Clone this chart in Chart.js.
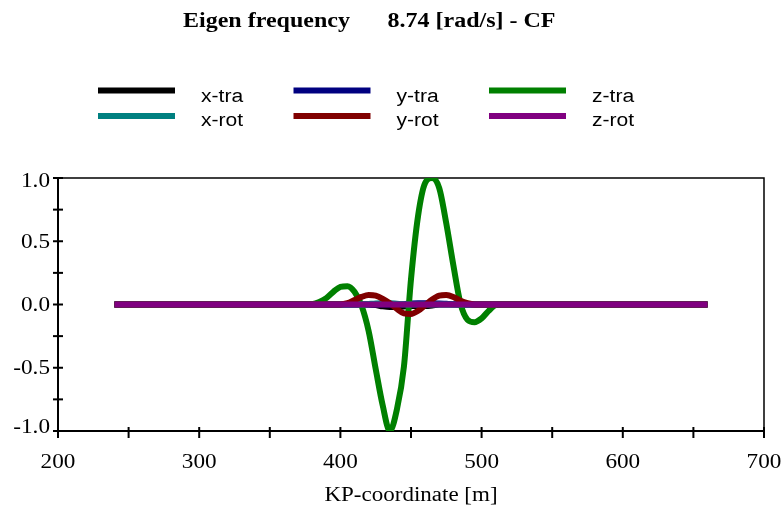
<!DOCTYPE html>
<html>
<head>
<meta charset="utf-8">
<title>Eigen frequency 8.74 [rad/s] - CF</title>
<script src="https://cdn.jsdelivr.net/npm/chart.js@4.4.1/dist/chart.umd.min.js"></script>
<style>
    html, body { margin: 0; padding: 0; background: #ffffff; }
    #mode-chart { display: block; }
</style>
</head>
<body>
<canvas id="mode-chart" width="784" height="514"></canvas>
<script>
// ============================================
// Mode shape plot - six displacement components along the KP line
// ============================================

const TITLE_LEFT = 'Eigen frequency';
const TITLE_RIGHT = '8.74 [rad/s] - CF';
const X_TITLE = 'KP-coordinate [m]';

const seriesLabels = ['x-tra', 'y-tra', 'z-tra', 'x-rot', 'y-rot', 'z-rot'];
const seriesColors = ['#000000', '#000080', '#008000', '#008080', '#800000', '#800080'];

// KP stations [m]
const kp = [240, 300, 360,
    370, 375, 380, 385, 390, 395, 400, 405, 410, 415, 420, 425, 430, 435, 440, 445,
    450, 455, 460, 465, 470, 475, 480, 485, 490, 495, 500, 505, 510, 515, 520,
    540, 600, 660];

const xTra = [0, 0, 0,
    0, 0, 0, 0, 0, 0, 0, 0, 0, 0, 0, -0.005, -0.015, -0.02, -0.02, -0.015,
    -0.012, -0.012, -0.012, -0.008, 0, 0, 0, 0, 0, 0, 0, 0, 0, 0, 0,
    0, 0, 0];

const yTra = [0, 0, 0,
    0, 0, 0, 0, 0, 0, 0, 0, 0, 0, 0, 0, 0, 0, 0, 0.003,
    0.008, 0.01, 0.01, 0.01, 0.008, 0.005, 0.002, 0, 0, 0, 0, 0, 0, 0, 0,
    0, 0, 0];

const zTra = [0, 0, 0,
    0, 0, 0.003, 0.02, 0.05, 0.10, 0.14, 0.145, 0.10, -0.01, -0.21, -0.51, -0.80, -1.0, -0.83, -0.49,
    0.2, 0.7, 0.96, 1.0, 0.92, 0.64, 0.31, 0.01, -0.12, -0.14, -0.11, -0.05, -0.005, 0, 0,
    0, 0, 0];

const xRot = [0, 0, 0,
    0, 0, 0, 0, 0, 0, 0, 0, 0, 0, 0.004, 0.008, 0.01, 0.01, 0.006, 0.002,
    0, 0, 0, 0, 0, 0, 0, 0, 0, 0, 0, 0, 0, 0, 0,
    0, 0, 0];

const yRot = [0, 0, 0,
    0, 0, 0, 0, 0, 0, 0, 0.01, 0.035, 0.06, 0.075, 0.07, 0.045, 0.01, -0.035, -0.07,
    -0.075, -0.05, -0.005, 0.04, 0.07, 0.075, 0.06, 0.03, 0.01, 0, 0, 0, 0, 0, 0,
    0, 0, 0];

const zRot = [0, 0, 0,
    0, 0, 0, 0, 0, 0, 0, 0, 0, 0, 0, 0, 0, 0, 0, 0,
    0, 0, 0, 0, 0, 0, 0, 0, 0, 0, 0, 0, 0, 0, 0,
    0, 0, 0];

const seriesValues = [xTra, yTra, zTra, xRot, yRot, zRot];

// Axis ranges and tick steps
const X_MIN = 200, X_MAX = 700, X_STEP = 50, X_LABEL_STEP = 100;
const Y_MIN = -1, Y_MAX = 1, Y_STEP = 0.25, Y_LABEL_STEP = 0.5;

const SERIF = "'Liberation Serif', 'Times New Roman', serif";
const SANS = "'Liberation Sans', Arial, sans-serif";
const STRETCH = 1.16;   // text is drawn a little wider than the face

/**
 * Draw text horizontally stretched, aligned on x
 */
function drawStretched(ctx, text, x, y, font, align, sx) {
    ctx.save();
    ctx.font = font;
    ctx.textAlign = 'left';
    ctx.textBaseline = 'alphabetic';
    ctx.fillStyle = '#000000';
    const w = ctx.measureText(text).width * sx;
    let left = x;
    if (align === 'center') left = x - w / 2;
    else if (align === 'right') left = x - w;
    ctx.translate(left, y);
    ctx.scale(sx, 1);
    ctx.fillText(text, 0, 0);
    ctx.restore();
}

function isMultiple(v, step) {
    const r = Math.abs(v / step - Math.round(v / step));
    return r < 1e-6;
}

// Frame, crossing tick marks and tick labels
const framePlugin = {
    id: 'frame',
    beforeDatasetsDraw(chart) {
        const { ctx, chartArea: a, scales } = chart;
        ctx.save();
        ctx.strokeStyle = '#000000';
        ctx.lineCap = 'square';

        // top / right border
        ctx.lineWidth = 1.5;
        ctx.beginPath();
        ctx.moveTo(a.left, a.top);
        ctx.lineTo(a.right, a.top);
        ctx.lineTo(a.right, a.bottom);
        ctx.stroke();

        // left / bottom axes
        ctx.lineWidth = 2;
        ctx.beginPath();
        ctx.moveTo(a.left, a.top);
        ctx.lineTo(a.left, a.bottom);
        ctx.lineTo(a.right, a.bottom);
        ctx.stroke();

        ctx.lineCap = 'butt';
        scales.x.ticks.forEach(t => {
            const px = scales.x.getPixelForValue(t.value);
            ctx.beginPath();
            ctx.moveTo(px, a.bottom - 4);
            ctx.lineTo(px, a.bottom + 7);
            ctx.stroke();
        });
        scales.y.ticks.forEach(t => {
            const py = scales.y.getPixelForValue(t.value);
            ctx.beginPath();
            ctx.moveTo(a.left - 5, py);
            ctx.lineTo(a.left + 5, py);
            ctx.stroke();
        });
        ctx.restore();
    },
    afterDraw(chart) {
        const { ctx, chartArea: a, scales } = chart;
        const tickFont = '20px ' + SERIF;

        scales.x.ticks.forEach(t => {
            if (!isMultiple(t.value, X_LABEL_STEP)) return;
            const px = scales.x.getPixelForValue(t.value);
            drawStretched(ctx, String(t.value), px, a.bottom + 37, tickFont, 'center', STRETCH);
        });
        scales.y.ticks.forEach(t => {
            if (!isMultiple(t.value, Y_LABEL_STEP)) return;
            const py = scales.y.getPixelForValue(t.value);
            const base = Math.min(Math.max(py + 6.5, a.top + 9), a.bottom + 2);
            drawStretched(ctx, t.value.toFixed(1), a.left - 8, base, tickFont, 'right', STRETCH);
        });

        drawStretched(ctx, X_TITLE, (a.left + a.right) / 2, a.bottom + 70, '20px ' + SERIF, 'center', 1.15);

        drawStretched(ctx, TITLE_LEFT, 183, 27, 'bold 20px ' + SERIF, 'left', 1.2);
        drawStretched(ctx, TITLE_RIGHT, 387.5, 27, 'bold 20px ' + SERIF, 'left', 1.2);
    }
};

// Three-column legend: line sample + label
const legendPlugin = {
    id: 'modeLegend',
    afterDraw(chart) {
        const ctx = chart.ctx;
        const colX = [98, 293.5, 489];
        const lineY = [90.5, 116];
        const textY = [101.7, 125.7];
        const lineLen = 77, textGap = 26;

        chart.data.datasets.forEach((ds, i) => {
            const col = i % 3, row = Math.floor(i / 3);
            ctx.save();
            ctx.strokeStyle = ds.borderColor;
            ctx.lineWidth = 6;
            ctx.lineCap = 'butt';
            ctx.beginPath();
            ctx.moveTo(colX[col], lineY[row]);
            ctx.lineTo(colX[col] + lineLen, lineY[row]);
            ctx.stroke();
            ctx.restore();
            drawStretched(ctx, ds.label, colX[col] + lineLen + textGap, textY[row], '18px ' + SANS, 'left', 1.17);
        });
    }
};

const datasets = seriesLabels.map((label, i) => ({
    label: label,
    data: kp.map((x, k) => ({ x: x, y: seriesValues[i][k] })),
    borderColor: seriesColors[i],
    backgroundColor: seriesColors[i],
    borderWidth: 6,
    pointRadius: 0,
    fill: false,
    cubicInterpolationMode: 'monotone',
    order: seriesLabels.length - i   // z-rot ends up on top
}));

const chart = new Chart(document.getElementById('mode-chart'), {
    type: 'line',
    data: { datasets: datasets },
    options: {
        responsive: false,
        animation: false,
        layout: { padding: { left: 58, right: 20, top: 178, bottom: 83 } },
        plugins: {
            legend: { display: false },
            title: { display: false },
            tooltip: { enabled: false }
        },
        scales: {
            x: {
                type: 'linear',
                display: false,
                min: X_MIN,
                max: X_MAX,
                ticks: { stepSize: X_STEP }
            },
            y: {
                type: 'linear',
                display: false,
                min: Y_MIN,
                max: Y_MAX,
                ticks: { stepSize: Y_STEP }
            }
        }
    },
    plugins: [framePlugin, legendPlugin]
});
</script>
</body>
</html>
